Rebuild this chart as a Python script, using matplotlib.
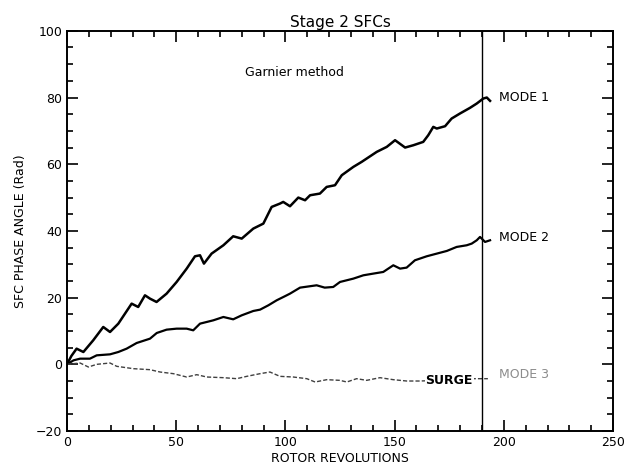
# Stage 2 SFC phase angles (Garnier method)

import numpy as np
import matplotlib
matplotlib.use("Agg")
import matplotlib.pyplot as plt

# Mode 1
mode1_x = [0, 2, 4.4, 7.5, 12, 16.6, 19.7, 23.5, 29.6, 32.6, 35.7, 38, 41, 45.6,
           50.2, 54.8, 58.6, 60.9, 62.7, 66.2, 71.6, 76.1, 80, 85.3, 89.9, 93.7,
           97.5, 99, 102.1, 105.9, 109, 111.3, 115.8, 118.9, 122.7, 125.8, 131.1,
           134.9, 137.2, 141.8, 146.4, 150.2, 154.8, 158.6, 163.1, 165.4, 167.7,
           169.3, 173.1, 176.1, 179.9, 184.5, 187.6, 190.6, 192.2, 193.7]
mode1_y = [0, 2.5, 4.7, 3.7, 7.2, 11.2, 9.7, 12.2, 18.2, 17.2, 20.7, 19.7, 18.7, 21.2,
           24.7, 28.7, 32.4, 32.7, 30.2, 33.2, 35.7, 38.4, 37.7, 40.7, 42.2, 47.2,
           48.2, 48.7, 47.4, 50, 49.2, 50.7, 51.2, 53.2, 53.7, 56.7, 59.2,
           60.7, 61.7, 63.7, 65.2, 67.2, 65, 65.7, 66.7, 68.7, 71.2,
           70.7, 71.4, 73.7, 75.2, 76.9, 78.2, 79.7, 80, 79]

# Mode 2
mode2_x = [0, 3, 6, 10.5, 13.6, 19.7, 23.5, 27.3, 31.9, 38, 41.1, 45.6, 50.2, 54.8,
           57.8, 60.9, 67, 71.6, 76.1, 80, 85.3, 88.4, 92.2, 96, 100, 102.1, 106.7,
           114.3, 118, 121.9, 125, 131.1, 135.7, 140.2, 144.8, 149.4, 152.5, 155.5,
           159.3, 164.7, 169.3, 173.9, 178.4, 183, 185.3, 187.6, 189.1, 191.4, 193.7]
mode2_y = [0, 1.2, 1.7, 1.7, 2.7, 3, 3.7, 4.7, 6.4, 7.7, 9.4, 10.4, 10.7, 10.7,
           10.2, 12.2, 13.2, 14.2, 13.5, 14.7, 16, 16.4, 17.7, 19.2, 20.5, 21.2, 23,
           23.7, 23.0, 23.2, 24.7, 25.7, 26.7, 27.2, 27.7, 29.7, 28.7, 29,
           31.2, 32.4, 33.2, 34, 35.2, 35.7, 36.2, 37.2, 38.2, 36.7, 37.2]

# Mode 3 (surge)
mode3_x = [0, 6, 9.8, 13.6, 19.7, 22.8, 30.4, 38, 42.6, 48.7, 54.8, 59.4, 64, 71.6,
           77.7, 82.3, 88.4, 92.9, 97.5, 103.6, 109.8, 113.6, 118.9, 125, 128.1,
           132.6, 137.2, 143.3, 149.4, 155.5, 161.6, 170, 180, 186, 192.7]
mode3_y = [0, 0.4, -0.8, 0, 0.4, -0.6, -1.3, -1.6, -2.3, -2.8, -3.8, -3.1, -3.8, -4,
           -4.3, -3.6, -2.8, -2.3, -3.6, -3.8, -4.3, -5.3, -4.6, -4.8, -5.3,
           -4.3, -4.8, -4, -4.6, -5, -5, -4.8, -4.6, -4.3, -4.3]

surge_rev = 190

fig = plt.figure(figsize=(6.32, 4.67), dpi=100)
ax = fig.add_axes([0.106, 0.077, 0.864, 0.857])

ax.plot(mode1_x, mode1_y, color="black", lw=1.8)
ax.plot(mode2_x, mode2_y, color="black", lw=1.6)
ax.plot(mode3_x, mode3_y, color="0.25", lw=1.0, linestyle=(0, (3, 1.5)))
ax.axvline(surge_rev, color="black", lw=1.0)

ax.text(198, 80, "MODE 1", fontsize=9, va="center")
ax.text(198, 38, "MODE 2", fontsize=9, va="center")
ax.text(198, -3, "MODE 3", fontsize=9, va="center", color="0.55")
ax.text(175, -4.8, "SURGE", fontsize=9, fontweight="bold", ha="center", va="center",
        bbox=dict(facecolor="white", edgecolor="none", pad=0.5))
ax.text(81.5, 87.5, "Garnier method", fontsize=9, va="center")

ax.set_xlim(0, 250)
ax.set_ylim(-20, 100)
ax.set_xticks(np.arange(0, 251, 50))
ax.set_xticks(np.arange(0, 251, 10), minor=True)
ax.set_yticks(np.arange(-20, 101, 20))
ax.set_yticks(np.arange(-20, 101, 5), minor=True)
ax.tick_params(which="both", direction="in", top=True, right=True, width=1.2,
               labelsize=9)
ax.tick_params(which="major", length=8)
ax.tick_params(which="minor", length=4)
for s in ax.spines.values():
    s.set_linewidth(1.4)

ax.set_title("Stage 2 SFCs", fontsize=11, pad=3)
ax.set_xlabel("ROTOR REVOLUTIONS", fontsize=9, labelpad=2)
ax.set_ylabel("SFC PHASE ANGLE (Rad)", fontsize=9, labelpad=6)

plt.savefig("out.png", dpi=100)
